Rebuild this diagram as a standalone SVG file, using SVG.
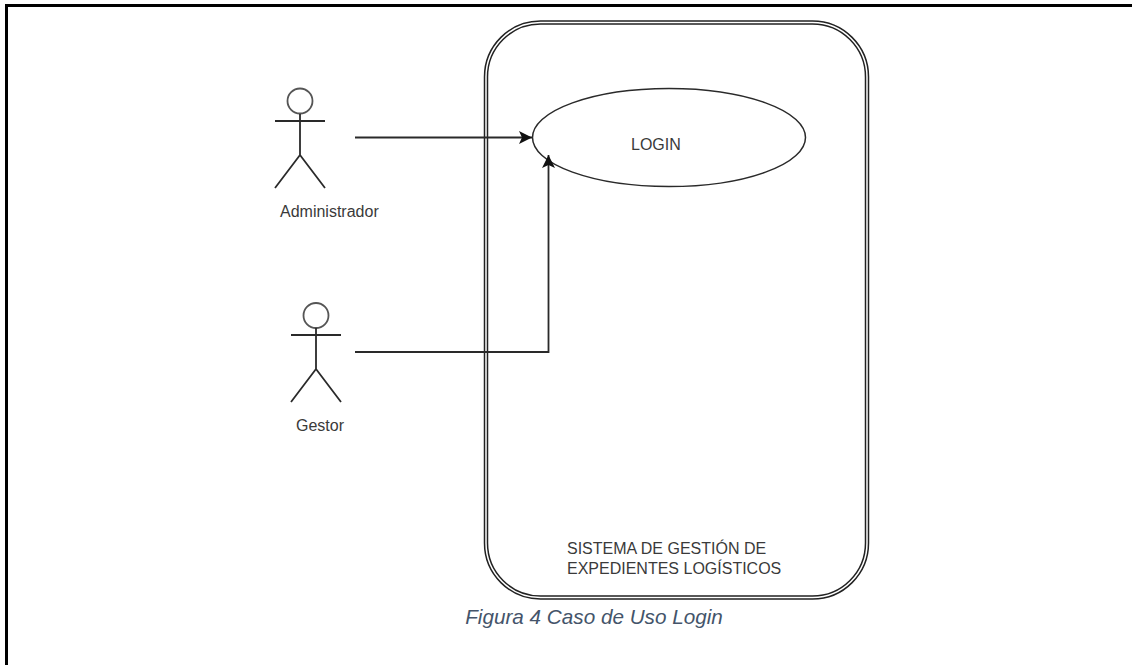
<svg xmlns="http://www.w3.org/2000/svg" width="1132" height="665" viewBox="0 0 1132 665">
<style>
.l{fill:none;stroke:#2a2a2a;stroke-width:1.800}
.t{font-family:"Liberation Sans",Arial,sans-serif;font-size:16px;fill:#3a3a3a}
.c{font-family:"Liberation Sans",Arial,sans-serif;font-size:20.700px;font-style:italic;fill:#44546a}
</style>
<defs><marker id="a" markerUnits="userSpaceOnUse" markerWidth="14" markerHeight="13" refX="13" refY="6.500" orient="auto"><path d="M0 0L13 6.500L0 13L3 6.500Z" fill="#111"/></marker></defs>
<rect width="1132" height="665" fill="#fff"/>
<path d="M6.500 665V5.500H1132" fill="none" stroke="#000" stroke-width="3"/>
<g id="system">
<rect x="484.500" y="21" width="384" height="578" rx="56" fill="none" stroke="#222" stroke-width="1.500"/>
<rect x="487.500" y="24" width="378" height="572" rx="53" fill="none" stroke="#222" stroke-width="1.500"/>
<text class="t" x="567" y="554">SISTEMA DE GESTIÓN DE</text>
<text class="t" x="567" y="574">EXPEDIENTES LOGÍSTICOS</text>
</g>
<g id="login">
<ellipse cx="669" cy="137.500" rx="136.500" ry="49" fill="#fff" stroke="#2a2a2a" stroke-width="1.500"/>
<text class="t" x="631" y="150">LOGIN</text>
</g>
<g id="administrador">
<circle cx="300" cy="101" r="12.500" fill="#fff" stroke="#555" stroke-width="1.800"/>
<path class="l" d="M300 114V155M275 121H325M300 155L275 188M300 155L325 188"/>
<text class="t" x="280" y="217">Administrador</text>
</g>
<g id="gestor">
<circle cx="316" cy="315.500" r="12.500" fill="#fff" stroke="#555" stroke-width="1.800"/>
<path class="l" d="M316 328V369M291 335H341M316 369L291 402M316 369L341 402"/>
<text class="t" x="296" y="431">Gestor</text>
</g>
<g id="connectors">
<path class="l" d="M355 137.500H532" marker-end="url(#a)"/>
<path class="l" d="M355 352H548.500V155" marker-end="url(#a)"/>
</g>
<text class="c" x="594" y="624" text-anchor="middle">Figura 4 Caso de Uso Login</text>
</svg>
